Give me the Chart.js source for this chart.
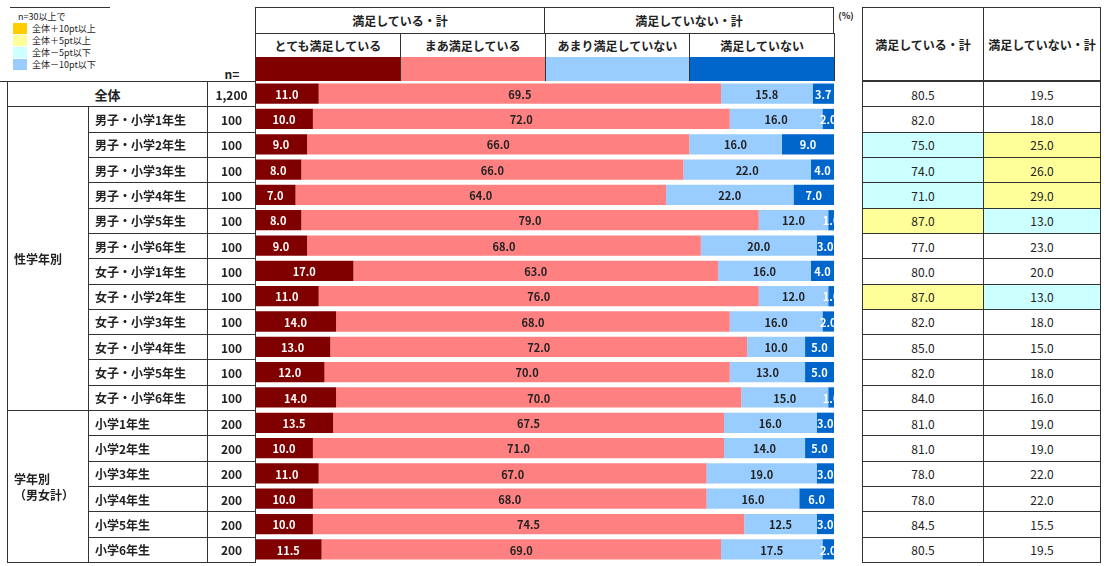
<!DOCTYPE html>
<html lang="ja">
<head>
<meta charset="UTF-8">
<title>満足度</title>
<script src="https://cdn.jsdelivr.net/npm/chart.js"></script>
<style>
  body { margin:0; background:#fff; font-family:'Noto Sans CJK JP',sans-serif; font-size:12px; color:#222; }
  .a { position:absolute; box-sizing:border-box; display:flex; align-items:center; justify-content:center; font-weight:bold; }
  .l { justify-content:flex-start; padding-left:6px; }
  #wrap { position:absolute; left:255px; top:81px; width:579px; height:481px; }
</style>
</head>
<body>
<div id="wrap"><canvas id="c"></canvas></div>
<script>
const rowLabels = ['全体','男子・小学1年生','男子・小学2年生','男子・小学3年生','男子・小学4年生','男子・小学5年生','男子・小学6年生',
  '女子・小学1年生','女子・小学2年生','女子・小学3年生','女子・小学4年生','女子・小学5年生','女子・小学6年生',
  '小学1年生','小学2年生','小学3年生','小学4年生','小学5年生','小学6年生'];
const nValues = ['1,200','100','100','100','100','100','100','100','100','100','100','100','100','200','200','200','200','200','200'];
const seriesNames = ['とても満足している','まあ満足している','あまり満足していない','満足していない'];
const verySat = [11.0,10.0,9.0,8.0,7.0,8.0,9.0,17.0,11.0,14.0,13.0,12.0,14.0,13.5,10.0,11.0,10.0,10.0,11.5];
const fairlySat = [69.5,72.0,66.0,66.0,64.0,79.0,68.0,63.0,76.0,68.0,72.0,70.0,70.0,67.5,71.0,67.0,68.0,74.5,69.0];
const notVery = [15.8,16.0,16.0,22.0,22.0,12.0,20.0,16.0,12.0,16.0,10.0,13.0,15.0,16.0,14.0,19.0,16.0,12.5,17.5];
const notSat = [3.7,2.0,9.0,4.0,7.0,1.0,3.0,4.0,1.0,2.0,5.0,5.0,1.0,3.0,5.0,3.0,6.0,3.0,2.0];
const satTotal = [80.5,82.0,75.0,74.0,71.0,87.0,77.0,80.0,87.0,82.0,85.0,82.0,84.0,81.0,81.0,78.0,78.0,84.5,80.5];
const unsatTotal = [19.5,18.0,25.0,26.0,29.0,13.0,23.0,20.0,13.0,18.0,15.0,18.0,16.0,19.0,19.0,22.0,22.0,15.5,19.5];
// highlight per row: [sat, unsat] ('y' = +5pt, 'c' = -5pt)
const marks = {2:['c','y'],3:['c','y'],4:['c','y'],5:['y','c'],8:['y','c']};
const colors = ['#800000','#FF8080','#99CCFF','#0066CC'];
const labelColors = ['#fff','#222','#222','#fff'];

const rowTop = 81, rowH = 481/19;
function box(x,y,w,h,txt,style,cls){
  const d=document.createElement('div'); d.className='a '+(cls||'');
  d.style.cssText=`left:${x}px;top:${y}px;width:${w}px;height:${h}px;`+(style||'');
  d.textContent=txt||''; document.body.appendChild(d); return d;
}
// legend
box(10,7,100,1,'','border-top:1px solid #333');
box(12,9,100,14,'n=30以上で','font-weight:normal;font-size:9px','l');
const legC=['#FFCC00','#FFFF99','#CCFFFF','#99CCFF'], legT=['全体＋10pt以上','全体＋5pt以上','全体－5pt以下','全体－10pt以下'];
legC.forEach((c,i)=>{ box(13,23+i*12,14,11,'','background:'+c); box(32,22+i*12,90,13,legT[i],'font-weight:normal;font-size:9px;justify-content:flex-start'); });
box(212,66,40,14,'n=');
// header
const B='border:1px solid #333;';
box(255,7,290,27,'満足している・計',B);
box(544,7,290,27,'満足していない・計',B);
seriesNames.forEach((s,i)=>{ box(255+i*144.75,33,145.75,25,s,B); box(255+i*144.75,57,145.75,24,'','border-left:1px solid #333;border-right:1px solid #333;background:'+colors[i]); });
box(834,8,24,14,'(%)','font-size:9px');
box(862,7,122,74,'満足している・計',B);
box(983,7,118,74,'満足していない・計',B);
// rows
box(7,81,1,481,'','border-left:1px solid #333');
rowLabels.forEach((r,i)=>{
  const y=rowTop+i*rowH;
  if(i===0) box(7,y,201,rowH+1,r,B+'font-size:13px');
  else box(88,y,120,rowH+1,r,B,'l');
  box(207,y,49,rowH+1,nValues[i],B);
  const m=marks[i]||[];
  const bg=k=>k==='y'?'background:#FFFF99;':k==='c'?'background:#CCFFFF;':'';
  box(862,y,122,rowH+1,satTotal[i].toFixed(1),B+bg(m[0])+'font-weight:normal');
  box(983,y,118,rowH+1,unsatTotal[i].toFixed(1),B+bg(m[1])+'font-weight:normal');
});
box(7,81+rowH,82,rowH*12+1,'性学年別',B,'l');
box(7,81+rowH*13,82,rowH*6+1,'学年別\n（男女計）',B+'white-space:pre;line-height:1.3','l');
box(0,81,1110,1,'','border-top:1px solid #333;left:0;width:7px');

const labelPlugin={id:'lbl',afterDatasetsDraw(chart){
  const ctx=chart.ctx; ctx.save(); ctx.font='bold 11px "Noto Sans CJK JP"'; ctx.textAlign='center'; ctx.textBaseline='middle';
  chart.data.datasets.forEach((ds,di)=>{ chart.getDatasetMeta(di).data.forEach((el,i)=>{
    ctx.fillStyle=labelColors[di]; ctx.fillText(ds.data[i].toFixed(1),(el.x+el.base)/2,el.y+1);
  });});
  ctx.restore();
}};
new Chart(document.getElementById('c'),{
  type:'bar',
  data:{labels:rowLabels,datasets:[verySat,fairlySat,notVery,notSat].map((d,i)=>({label:seriesNames[i],data:d,backgroundColor:colors[i],barPercentage:0.8,categoryPercentage:1}))},
  options:{indexAxis:'y',responsive:true,maintainAspectRatio:false,animation:false,
    layout:{padding:0},
    plugins:{legend:{display:false},tooltip:{enabled:false}},
    scales:{x:{stacked:true,min:0,max:100,display:false},y:{stacked:true,display:false}}},
  plugins:[labelPlugin]
});
</script>
</body>
</html>
